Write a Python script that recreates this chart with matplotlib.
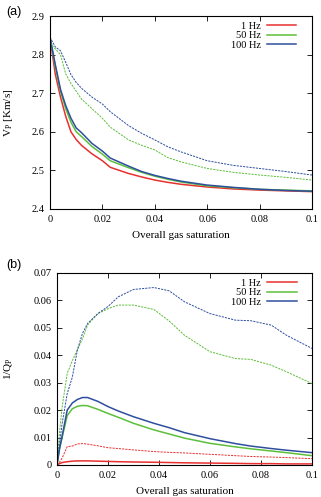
import numpy as np
import matplotlib.pyplot as plt

# %% data read off the reference
# panel (a): P-wave velocity vs overall gas saturation
sg_v = [0.0, 0.002, 0.004, 0.006, 0.008, 0.010, 0.012, 0.016, 0.020, 0.023,
        0.030, 0.035, 0.040, 0.045, 0.050, 0.060, 0.070, 0.080, 0.090, 0.100]
vp_1hz = [2.845, 2.75, 2.69, 2.64, 2.60, 2.58, 2.565, 2.543, 2.525, 2.508,
          2.492, 2.483, 2.475, 2.469, 2.464, 2.457, 2.452, 2.449, 2.447, 2.445]
vp_50hz = [2.845, 2.77, 2.705, 2.66, 2.625, 2.60, 2.588, 2.562, 2.542, 2.525,
           2.507, 2.495, 2.485, 2.477, 2.470, 2.460, 2.455, 2.451, 2.449, 2.447]
vp_100hz = [2.845, 2.775, 2.71, 2.668, 2.635, 2.61, 2.598, 2.57, 2.55, 2.532,
            2.511, 2.497, 2.487, 2.479, 2.472, 2.462, 2.456, 2.451, 2.448, 2.446]
vp_50hz_d = [2.83, 2.815, 2.80, 2.75, 2.725, 2.705, 2.685, 2.66, 2.635, 2.612,
             2.579, 2.565, 2.553, 2.533, 2.522, 2.505, 2.495, 2.488, 2.482, 2.475]
vp_100hz_d = [2.845, 2.82, 2.81, 2.78, 2.748, 2.728, 2.713, 2.69, 2.672, 2.652,
              2.616, 2.596, 2.579, 2.561, 2.548, 2.525, 2.513, 2.505, 2.497, 2.488]

# panel (b): attenuation vs overall gas saturation
sg_q = [0.0, 0.001, 0.002, 0.004, 0.006, 0.008, 0.010, 0.012, 0.016, 0.020,
        0.024, 0.030, 0.038, 0.044, 0.050, 0.060, 0.070, 0.076, 0.084, 0.090, 0.100]
q_1hz = [0.0, 0.0005, 0.0009, 0.0012, 0.0014, 0.0015, 0.0015, 0.0015, 0.0014, 0.0013,
         0.0012, 0.0011, 0.0010, 0.0009, 0.0008, 0.0007, 0.0006, 0.0005, 0.0005, 0.0004, 0.0004]
q_50hz = [0.0, 0.006, 0.010, 0.018, 0.0205, 0.0214, 0.0217, 0.0216, 0.0203, 0.0188,
          0.0174, 0.0152, 0.0128, 0.0113, 0.0098, 0.0079, 0.0066, 0.0059, 0.0051, 0.0045, 0.0034]
q_100hz = [0.0, 0.006, 0.0105, 0.020, 0.0226, 0.0239, 0.0246, 0.0246, 0.0232, 0.0213,
           0.0197, 0.0176, 0.0152, 0.0136, 0.0118, 0.0096, 0.0078, 0.0069, 0.0060, 0.0054, 0.0045]
q_1hz_d = [0.0, 0.001, 0.0025, 0.0067, 0.0069, 0.0077, 0.0078, 0.0076, 0.0070, 0.0063,
           0.0060, 0.0055, 0.0049, 0.0046, 0.0044, 0.0039, 0.0034, 0.0031, 0.0029, 0.0027, 0.0023]
q_50hz_d = [0.0, 0.012, 0.021, 0.0334, 0.038, 0.042, 0.046, 0.051, 0.0552, 0.057,
            0.0583, 0.0583, 0.0567, 0.0525, 0.0473, 0.0413, 0.0388, 0.0385, 0.0364, 0.034, 0.0297]
q_100hz_d = [0.0, 0.008, 0.015, 0.026, 0.032, 0.042, 0.048, 0.0516, 0.0552, 0.0578,
             0.0613, 0.064, 0.0647, 0.0635, 0.0595, 0.0552, 0.0528, 0.0526, 0.051, 0.0473, 0.0425]

labels = ["1 Hz", "50 Hz", "100 Hz"]
RED, GREEN, BLUE = "#e8302f", "#5cbf3a", "#2e4f9e"

plt.rcParams['font.family'] = ['Liberation Serif', 'DejaVu Serif']
plt.rcParams['mathtext.fontset'] = 'custom'
plt.rcParams['mathtext.rm'] = 'Liberation Serif'

fig = plt.figure(figsize=(3.21, 4.97), dpi=100)
W, H = 321.0, 497.0
ax1 = fig.add_axes([50 / W, 1 - 209 / H, 262 / W, 193 / H])
ax2 = fig.add_axes([57 / W, 1 - 465 / H, 255 / W, 192 / H])

dash = dict(lw=0.7, ls=(0, (2.2, 1.1)))

# %% panel (a)
ax1.plot(sg_v, vp_1hz, color=RED, lw=1.1, label=labels[0])
ax1.plot(sg_v, vp_50hz, color=GREEN, lw=1.1, label=labels[1])
ax1.plot(sg_v, vp_100hz, color=BLUE, lw=1.1, label=labels[2])
ax1.plot(sg_v, vp_50hz_d, color=GREEN, **dash)
ax1.plot(sg_v, vp_100hz_d, color=BLUE, **dash)
ax1.set_xlim(0, 0.1)
ax1.set_ylim(2.4, 2.9)
ax1.set_xticks([0, 0.02, 0.04, 0.06, 0.08, 0.1])
ax1.set_xticklabels(["0", "0.02", "0.04", "0.06", "0.08", "0.1"])
ax1.set_yticks([2.4, 2.5, 2.6, 2.7, 2.8, 2.9])
ax1.set_ylabel(r"V$_\mathrm{P}$ [Km/s]", fontsize=8, labelpad=12)

# %% panel (b)
ax2.plot(sg_q, q_1hz, color=RED, lw=1.1, label=labels[0])
ax2.plot(sg_q, q_50hz, color=GREEN, lw=1.1, label=labels[1])
ax2.plot(sg_q, q_100hz, color=BLUE, lw=1.1, label=labels[2])
ax2.plot(sg_q, q_1hz_d, color=RED, **dash)
ax2.plot(sg_q, q_50hz_d, color=GREEN, **dash)
ax2.plot(sg_q, q_100hz_d, color=BLUE, **dash)
ax2.set_xlim(0, 0.1)
ax2.set_ylim(0, 0.07)
ax2.set_xticks([0, 0.02, 0.04, 0.06, 0.08, 0.1])
ax2.set_xticklabels(["0", "0.02", "0.04", "0.06", "0.08", "0.1"])
ax2.set_yticks([0, 0.01, 0.02, 0.03, 0.04, 0.05, 0.06, 0.07])
ax2.set_yticklabels(["0", "0.01", "0.02", "0.03", "0.04", "0.05", "0.06", "0.07"])
ax2.set_ylabel(r"1/Q$_\mathrm{P}$", fontsize=8, labelpad=13)

for ax in (ax1, ax2):
    ax.set_xlabel("Overall gas saturation", fontsize=8, labelpad=5)
    ax.tick_params(direction='in', top=True, right=True, length=3.5,
                   width=0.6, labelsize=7.5, pad=4)
    for s in ax.spines.values():
        s.set_linewidth(0.8)
    ax.legend(loc='upper right', bbox_to_anchor=(1 - 10 / 262, 1.0),
              frameon=False, markerfirst=False,
              fontsize=7.5, handlelength=2.8, handletextpad=0.6,
              labelspacing=0.0, borderaxespad=0.15)

fig.text(6 / W, 1 - 12 / H, "(a)", family='Liberation Sans', fontsize=9, va='center')
fig.text(6 / W, 1 - 265 / H, "(b)", family='Liberation Sans', fontsize=9, va='center')

fig.savefig("out.png", dpi=100)
